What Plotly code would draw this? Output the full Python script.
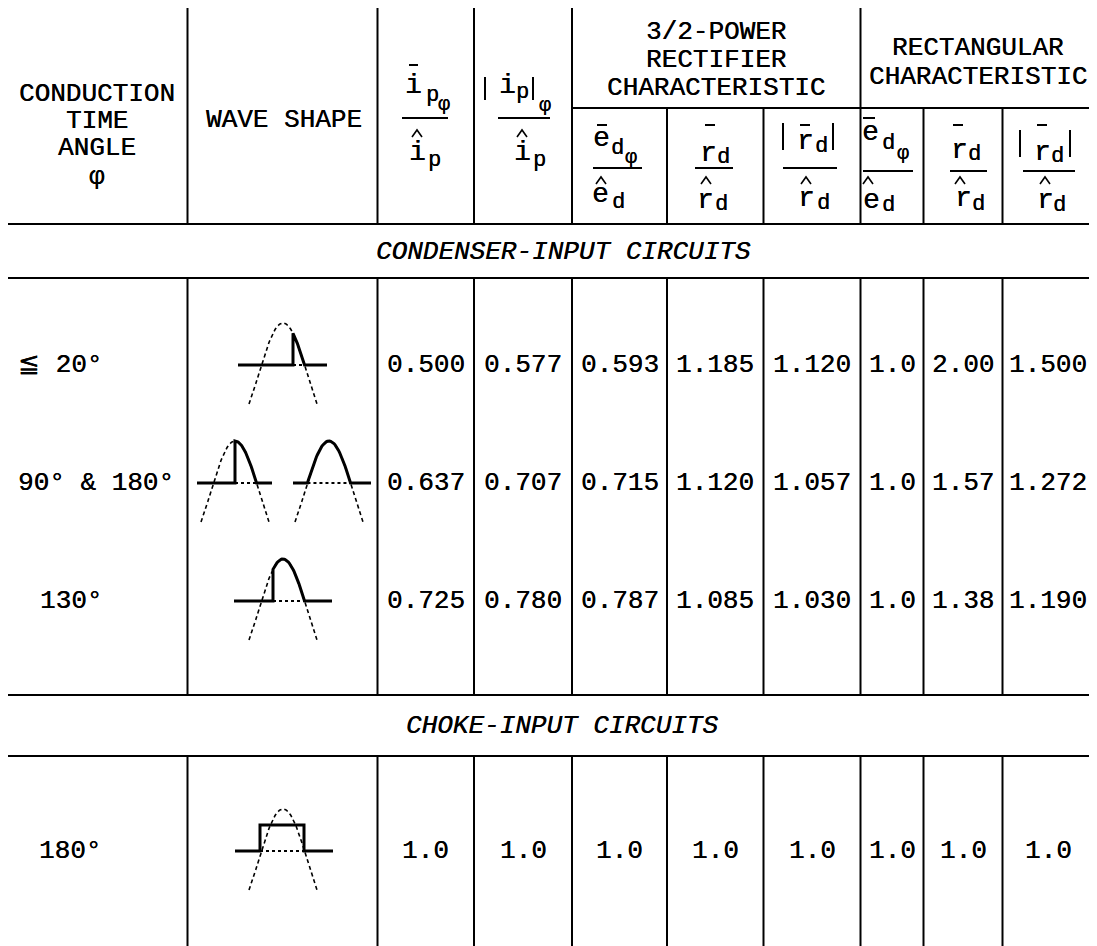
import numpy as np
import plotly.graph_objects as go

# ---------------- data ----------------
angle_labels = ["≦ 20°", "90° & 180°", "130°", "180°"]
ip_mean = ["0.500", "0.637", "0.725", "1.0"]
ip_abs = ["0.577", "0.707", "0.780", "1.0"]
p32_ed = ["0.593", "0.715", "0.787", "1.0"]
p32_rd = ["1.185", "1.120", "1.085", "1.0"]
p32_rd_abs = ["1.120", "1.057", "1.030", "1.0"]
rect_ed = ["1.0", "1.0", "1.0", "1.0"]
rect_rd = ["2.00", "1.57", "1.38", "1.0"]
rect_rd_abs = ["1.500", "1.272", "1.190", "1.0"]
section_titles = ["CONDENSER-INPUT CIRCUITS", "CHOKE-INPUT CIRCUITS"]
group_titles = ["3/2-POWER\nRECTIFIER\nCHARACTERISTIC", "RECTANGULAR\nCHARACTERISTIC"]
left_headers = ["CONDUCTION\nTIME\nANGLE\nφ", "WAVE SHAPE"]

value_cols = [ip_mean, ip_abs, p32_ed, p32_rd, p32_rd_abs, rect_ed, rect_rd, rect_rd_abs]

# ---------------- layout geometry (page pixels) ----------------
W, H = 1097, 946
PAD = 8  # default page body margin
FONT = "Liberation Mono"
SHADOW = "0.3px 0 0 #000"
col_x = [5, 187.5, 377.5, 474, 572, 667, 763.5, 860.5, 923.5, 1002.5, 1094]
row_y = [365, 483, 601, 851]
label_x = [60, 96, 71, 70]

fig = go.Figure()
shapes = []
ann = []


def line(x0, y0, x1, y1, w=2):
    shapes.append(dict(type="line", xref="x", yref="y", x0=x0, y0=y0, x1=x1, y1=y1,
                       line=dict(color="black", width=w)))


def txt(x, y, s, size=26, italic=False):
    ann.append(dict(x=x, y=y, xref="x", yref="y", text=s, showarrow=False,
                    xanchor="center", yanchor="middle",
                    font=dict(family=FONT, size=size, color="black", shadow=SHADOW,
                              style="italic" if italic else "normal")))


def hat(x, y):
    shapes.append(dict(type="path", xref="x", yref="y",
                       path=f"M {x-5},{y+4} L {x},{y-3} L {x+5},{y+4}",
                       line=dict(color="black", width=1.6)))


# table rules
line(col_x[0], 7, col_x[-1], 7)
line(col_x[4], 108, col_x[-1], 108)
for yy in [224, 278, 695, 756]:
    line(col_x[0], yy, col_x[-1], yy)
line(col_x[0], 7, col_x[0], H)
line(col_x[-1], 7, col_x[-1], H)
for i, xx in enumerate(col_x[1:-1], start=1):
    top = 108 if i in (5, 6, 8, 9) else 7
    line(xx, top, xx, 224)
    line(xx, 278, xx, 695)
    line(xx, 756, xx, H)

# header texts
for i, s in enumerate(left_headers[0].split("\n")):
    txt(97, [94, 121, 148, 177][i], s)
txt(284, 120, left_headers[1])
for i, s in enumerate(group_titles[0].split("\n")):
    txt(716, [32, 60, 88][i], s)
for i, s in enumerate(group_titles[1].split("\n")):
    txt(978, [48, 77][i], s)

# fraction headers
BIG, SUB, PHI = 28, 22, 20
# col 3
line(409, 65, 418, 65); txt(413, 85, "i", BIG); txt(432, 95, "p", SUB); txt(444, 104, "φ", PHI)
line(402, 118, 448, 118); hat(417, 133); txt(417, 152, "i", BIG); txt(434, 160, "p", SUB)
# col 4
line(485, 77, 485, 100); txt(507, 85, "i", BIG); txt(522, 92, "p", SUB); line(533, 77, 533, 100)
txt(545, 105, "φ", PHI)
line(498, 118, 550, 118); hat(522, 133); txt(522, 152, "i", BIG); txt(539, 160, "p", SUB)
# col 5
line(597, 125, 607, 125); txt(601, 138, "e", BIG); txt(617, 148, "d", SUB); txt(631, 157, "φ", PHI)
line(593, 168, 642, 168); hat(601, 180); txt(600, 194, "e", BIG); txt(618, 202, "d", SUB)
# col 6
line(705, 125, 715, 125); txt(708, 153, "r", BIG); txt(723, 157, "d", SUB)
line(695, 168, 733, 168); hat(706, 180); txt(705, 200, "r", BIG); txt(721, 204, "d", SUB)
# col 7
line(783, 123, 783, 150); line(833, 123, 833, 150)
line(800, 125, 810, 125); txt(805, 141, "r", BIG); txt(821, 146, "d", SUB)
line(783, 168, 837, 168); hat(806, 180); txt(806, 198, "r", BIG); txt(823, 203, "d", SUB)
# col 8
line(863, 118, 875, 118); txt(870, 132, "e", BIG); txt(888, 143, "d", SUB); txt(903, 153, "φ", PHI)
line(863, 171, 913, 171); hat(868, 180); txt(871, 200, "e", BIG); txt(888, 205, "d", SUB)
# col 9
line(953, 125, 963, 125); txt(959, 150, "r", BIG); txt(974, 154, "d", SUB)
line(950, 171, 987, 171); hat(960, 180); txt(963, 198, "r", BIG); txt(978, 204, "d", SUB)
# col 10
line(1020, 130, 1020, 157); line(1070, 130, 1070, 157)
line(1037, 125, 1047, 125); txt(1042, 152, "r", BIG); txt(1057, 156, "d", SUB)
line(1023, 171, 1075, 171); hat(1045, 180); txt(1045, 200, "r", BIG); txt(1059, 205, "d", SUB)

# section titles
txt(563, 252, section_titles[0], 26, italic=True)
txt(562, 726, section_titles[1], 26, italic=True)

# data rows
for r in range(4):
    txt(label_x[r], row_y[r], angle_labels[r])
    for c, col in enumerate(value_cols):
        cx = (col_x[c + 2] + col_x[c + 3]) / 2
        txt(cx, row_y[r], col[r])

# ---------------- wave shapes ----------------
OM = 0.7 * np.pi / 34
XC = np.arccos(9 / 51) / OM  # baseline crossing offset


def f(dx):
    return -9 + 51 * np.cos(OM * dx)


def add(xs, ys, width, dash):
    fig.add_trace(go.Scatter(x=xs, y=ys, mode="lines", hoverinfo="skip", showlegend=False,
                             line=dict(color="black", width=width, dash=dash)))


def wave(xc, y0, kind, start, left, right):
    d = np.linspace(-34, 34, 80)
    add(xc + d, y0 - f(d), 1.6, "4px,3px")
    if kind == "rect":
        a, b, h = -23, 21, 26
        add([xc + a, xc + b], [y0, y0], 2, "dot")
        add([xc - left, xc + a, xc + a, xc + b, xc + b, xc + right],
            [y0, y0, y0 - h, y0 - h, y0, y0], 3, "solid")
        return
    add([xc + start, xc + XC], [y0, y0], 2, "dot")
    dd = np.linspace(start, XC, 40)
    if start <= -XC + 0.01:
        xs = [xc - left] + list(xc + dd) + [xc + right]
        ys = [y0] + list(y0 - f(dd)) + [y0]
    else:
        xs = [xc - left, xc + start] + list(xc + dd) + [xc + right]
        ys = [y0, y0] + list(y0 - f(dd)) + [y0]
    add(xs, ys, 3, "solid")


wave(283, row_y[0], "cut", 10, 45, 44)
wave(235, row_y[1], "cut", 0, 38, 37)
wave(329, row_y[1], "cut", -XC, 36, 42)
wave(283, row_y[2], "cut", -10, 49, 49)
wave(283, row_y[3], "rect", 0, 48, 50)

fig.update_layout(
    width=W - PAD, height=H - PAD, margin=dict(l=0, r=0, t=0, b=0),
    paper_bgcolor="white", plot_bgcolor="white",
    xaxis=dict(range=[PAD, W], visible=False, fixedrange=True),
    yaxis=dict(range=[H, PAD], visible=False, fixedrange=True),
    shapes=shapes, annotations=ann,
)
fig.write_html("out.html")
